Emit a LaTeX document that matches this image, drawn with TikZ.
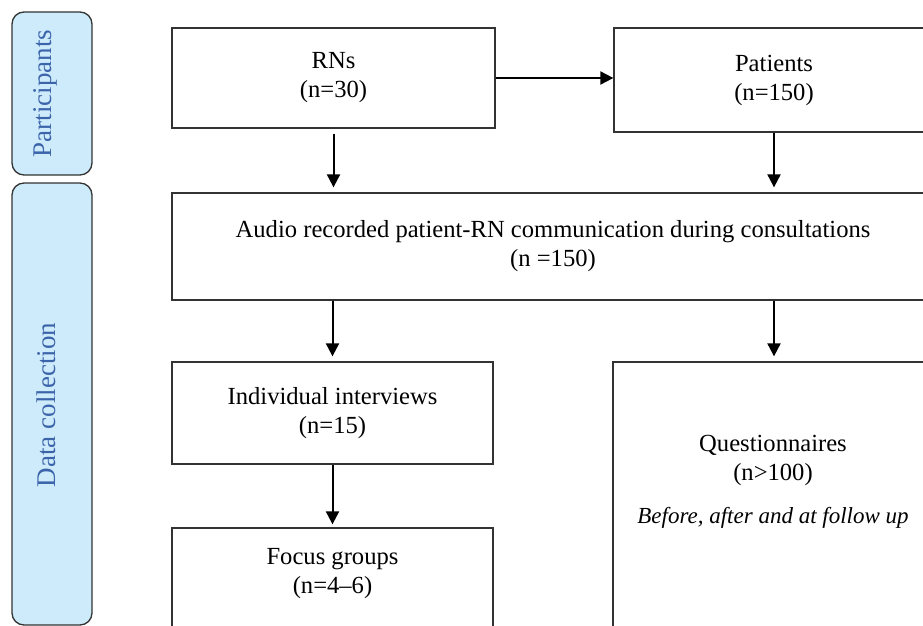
\documentclass[tikz,border=0pt]{standalone}
\usepackage{fontspec}
\setmainfont{Liberation Serif}
\usetikzlibrary{arrows.meta}
\definecolor{sidefill}{HTML}{CDEBFB}
\definecolor{sideblue}{HTML}{3C64AA}
\definecolor{boxline}{HTML}{333333}

\begin{document}
\begin{tikzpicture}[x=1pt,y=-1pt,>={Triangle[length=13pt,width=13pt]},
  font=\fontsize{24.6}{29}\selectfont,
  box/.style={draw=boxline,line width=1.3pt,align=center,inner sep=0pt},
  sidebox/.style={draw=boxline,line width=1.3pt,fill=sidefill,rounded corners=12pt,minimum width=80pt},
  sidetext/.style={rotate=90,text=sideblue,font=\fontsize{27}{30}\selectfont},
  arr/.style={->,line width=2pt}]
\useasboundingbox (0,0) rectangle (923,626);
\clip (0,0) rectangle (923,626);
% side bars
\node[sidebox,minimum height=163pt] (partbar) at (52,93.5) {};
\node[sidetext] (parttext) at (45,93.5) {Participants};
\node[sidebox,minimum height=442pt] (databar) at (52,404) {};
\node[sidetext] (datatext) at (46,405) {Data collection};
% boxes
\node[box,minimum width=323pt,minimum height=100pt] (rns) at (333.5,78) {RNs\\(n=30)};
\node[box,minimum width=320pt,minimum height=104pt] (patients) at (774,80) {Patients\\(n=150)};
\node[box,minimum width=762pt,minimum height=107pt] (audio) at (553,246.5) {Audio recorded patient-RN communication during consultations\\(n =150)};
\node[box,minimum width=321pt,minimum height=102pt] (indiv) at (332.5,413) {Individual interviews\\(n=15)};
\node[box,minimum width=321pt,minimum height=172pt] (focus) at (332.5,614) {};
\node[align=center] (focustext) at (332.5,574) {Focus groups\\(n=4--6)};
\node[box,minimum width=322pt,minimum height=338pt] (quest) at (774,531) {};
\node[align=center] (questtext) at (773,482) {Questionnaires\\(n>100)\\[14pt]{\fontsize{23}{29}\selectfont\itshape Before, after and at follow up}};
% arrows
\draw[arr] (rns.east) -- (patients.west |- rns.east);
\draw[arr,shorten <=5pt,shorten >=5pt] (rns.south) -- (rns.south |- audio.north);
\draw[arr,shorten >=5pt] (patients.south) -- (patients.south |- audio.north);
\draw[arr,shorten >=5pt] (indiv.north |- audio.south) -- (indiv.north);
\draw[arr,shorten >=5pt] (quest.north |- audio.south) -- (quest.north);
\draw[arr,shorten >=3pt] (indiv.south) -- (focus.north);
\end{tikzpicture}
\end{document}
